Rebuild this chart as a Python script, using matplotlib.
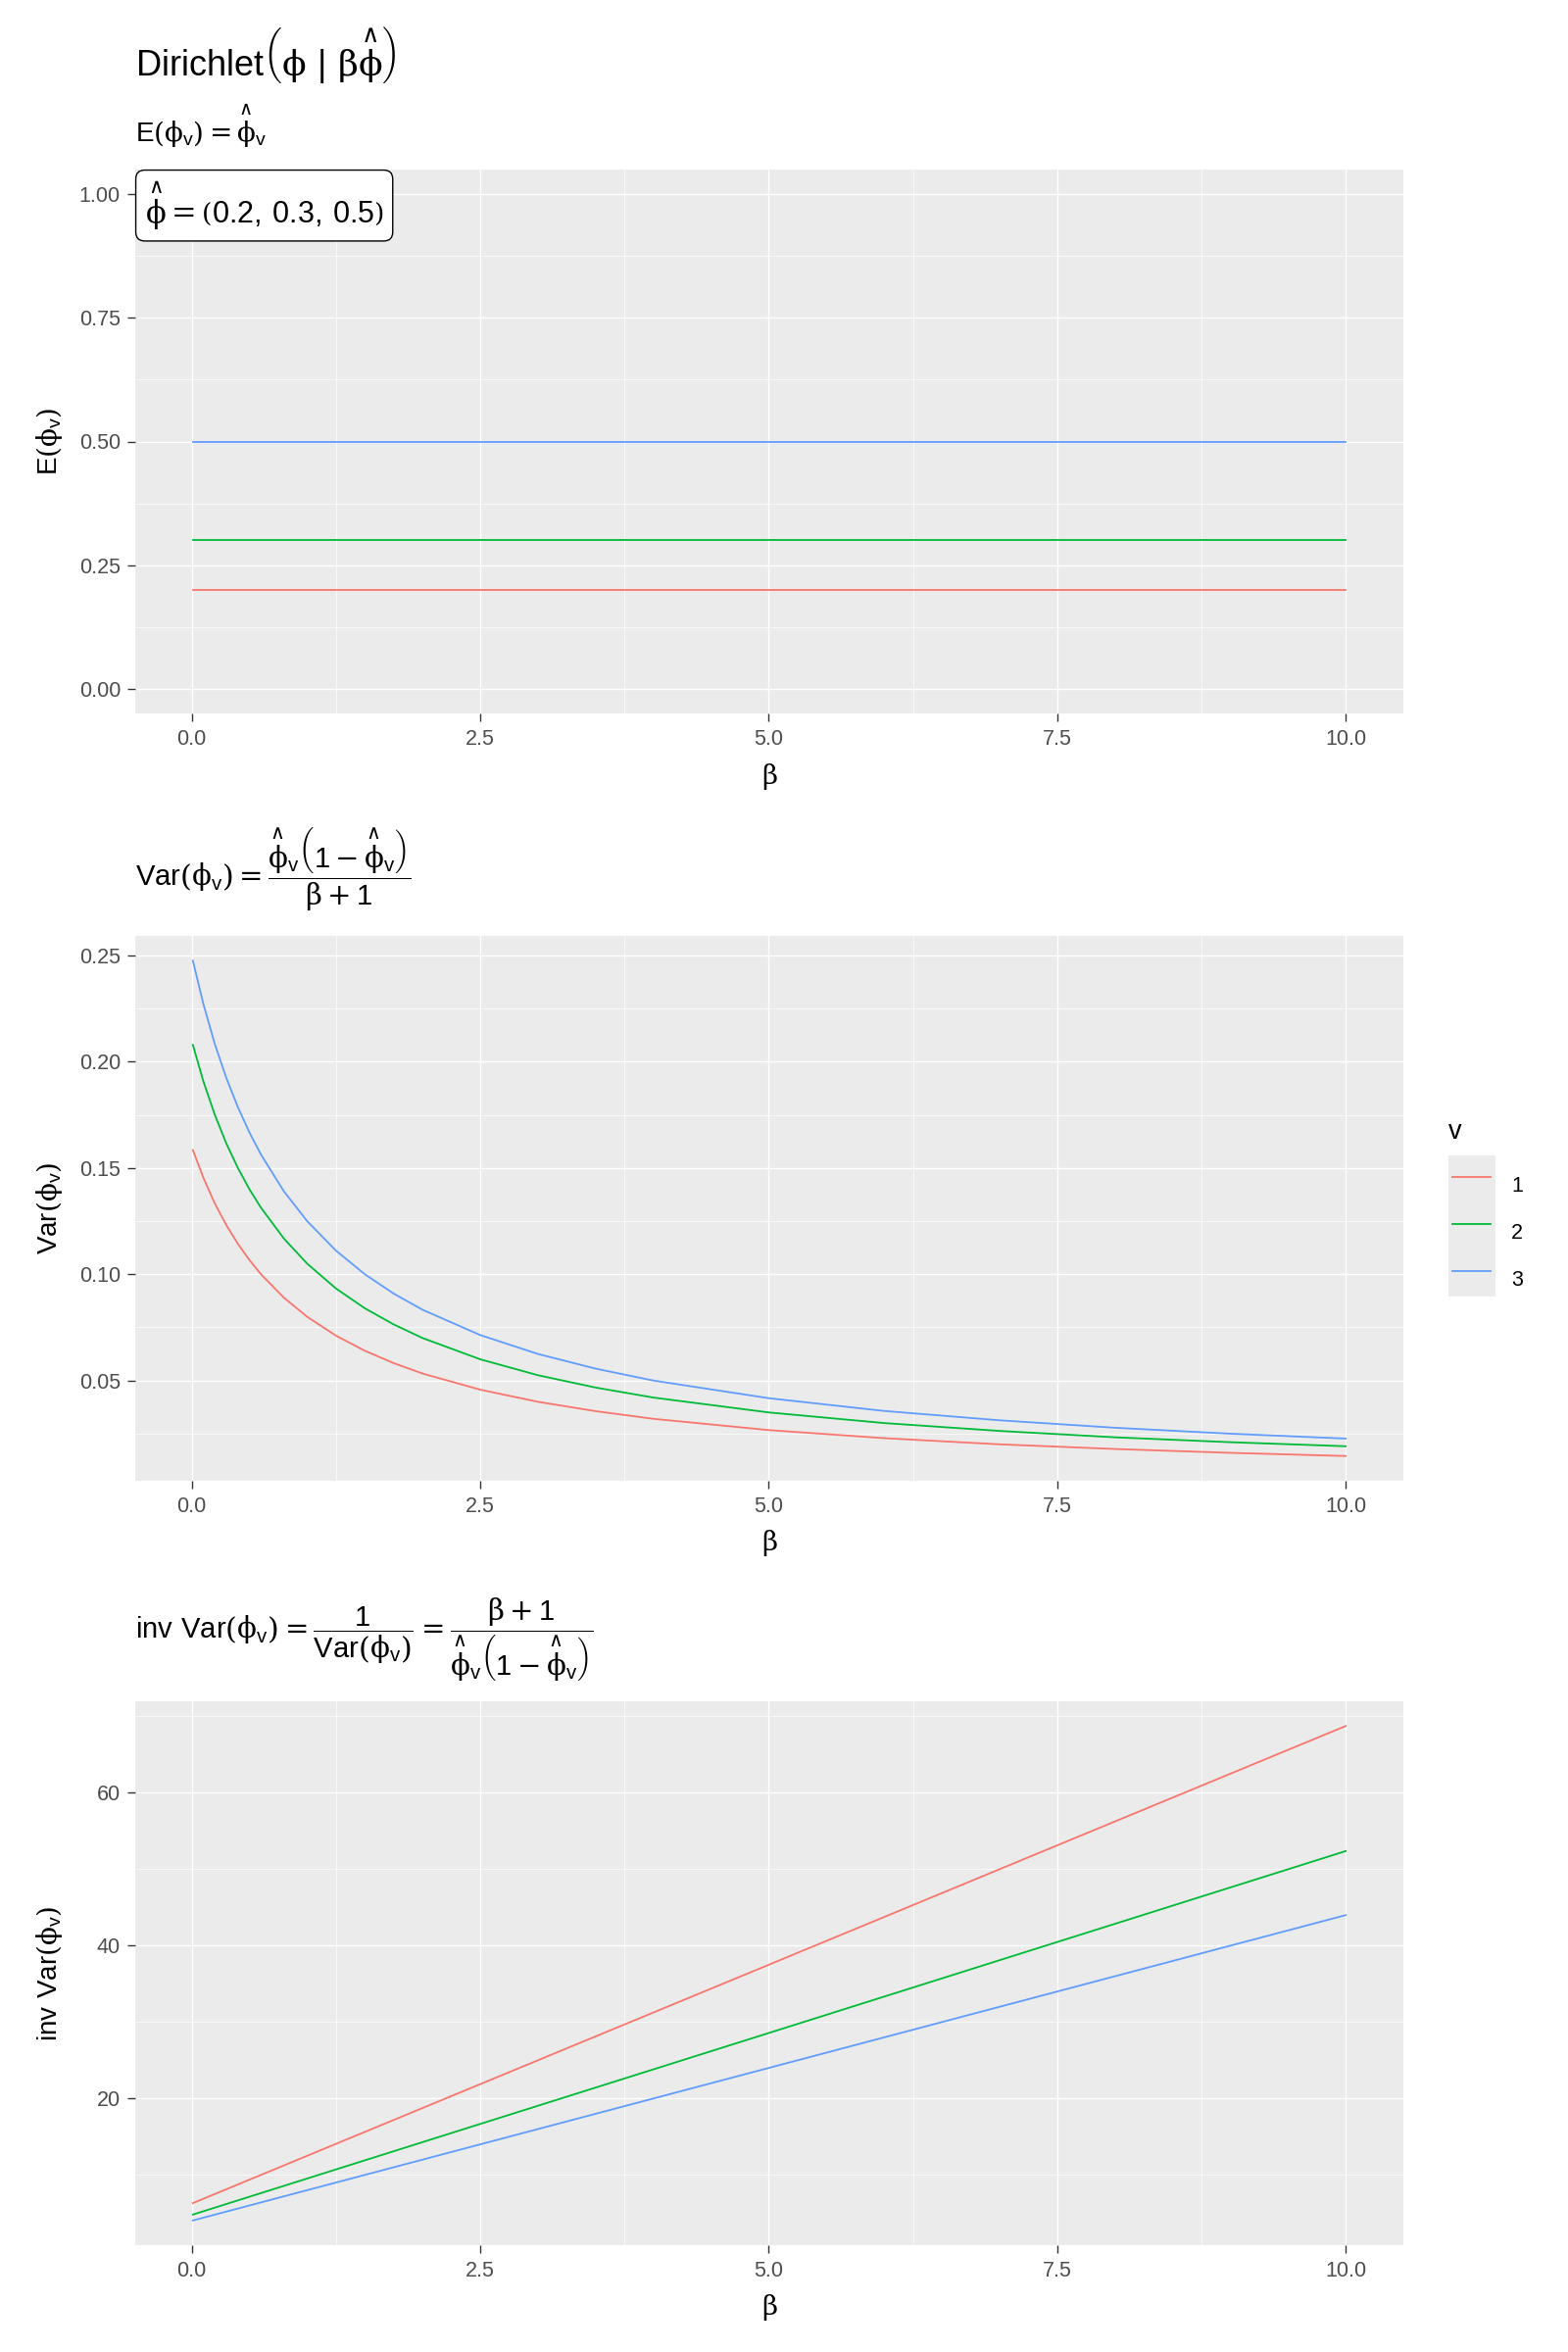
import matplotlib
matplotlib.use('Agg')
import matplotlib.pyplot as plt
from matplotlib.patches import Rectangle
from matplotlib.ticker import FormatStrFormatter

plt.rcParams['font.family'] = ['Liberation Sans', 'DejaVu Sans']
plt.rcParams['mathtext.fontset'] = 'custom'
plt.rcParams['mathtext.rm'] = 'DejaVu Serif'
plt.rcParams['mathtext.it'] = 'DejaVu Serif:italic'
plt.rcParams['mathtext.bf'] = 'DejaVu Serif:bold'
plt.rcParams['mathtext.sf'] = 'Liberation Sans'

# --- datos ---
niveles = ['1', '2', '3']
colores = ['#F8766D', '#00BA38', '#619CFF']

# E(phi_v) = phi_hat_v (constante en beta)
beta_e = [0.01, 10.0]
e_1 = [0.2, 0.2]
e_2 = [0.3, 0.3]
e_3 = [0.5, 0.5]

# Var(phi_v)
beta_var = [0.01, 0.1, 0.2, 0.3, 0.4, 0.5, 0.6, 0.8, 1.0, 1.25, 1.5, 1.75,
            2.0, 2.5, 3.0, 3.5, 4.0, 5.0, 6.0, 7.0, 8.0, 9.0, 10.0]
var_1 = [0.1584, 0.1455, 0.1333, 0.1231, 0.1143, 0.1067, 0.1000, 0.0889,
         0.0800, 0.0711, 0.0640, 0.0582, 0.0533, 0.0457, 0.0400, 0.0356,
         0.0320, 0.0267, 0.0229, 0.0200, 0.0178, 0.0160, 0.0145]
var_2 = [0.2079, 0.1909, 0.1750, 0.1615, 0.1500, 0.1400, 0.1313, 0.1167,
         0.1050, 0.0933, 0.0840, 0.0764, 0.0700, 0.0600, 0.0525, 0.0467,
         0.0420, 0.0350, 0.0300, 0.0263, 0.0233, 0.0210, 0.0191]
var_3 = [0.2475, 0.2273, 0.2083, 0.1923, 0.1786, 0.1667, 0.1563, 0.1389,
         0.1250, 0.1111, 0.1000, 0.0909, 0.0833, 0.0714, 0.0625, 0.0556,
         0.0500, 0.0417, 0.0357, 0.0313, 0.0278, 0.0250, 0.0227]

# inv Var(phi_v)
beta_inv = [0.01, 2.5, 5.0, 7.5, 10.0]
inv_1 = [6.31, 21.88, 37.50, 53.13, 68.75]
inv_2 = [4.81, 16.67, 28.57, 40.48, 52.38]
inv_3 = [4.04, 14.00, 24.00, 34.00, 44.00]

x_ticks = [0.0, 2.5, 5.0, 7.5, 10.0]
x_minor = [1.25, 3.75, 6.25, 8.75]

PHI = r'\mathrm{\phi}'
HAT = r'\overset{\wedge}{\mathrm{\phi}}'
PHIV = r'\mathrm{\phi}_{\mathsf{v}}'
HPHIV = HAT + r'_{\mathsf{v}}'

W, H = 1600, 2400
fig = plt.figure(figsize=(16, 24), dpi=100)


def panel(top_px, bottom_px):
    left, right = 138, 1432
    return fig.add_axes([left / W, 1 - bottom_px / H, (right - left) / W,
                         (bottom_px - top_px) / H])


def expandir(vals):
    lo, hi = min(vals), max(vals)
    d = 0.05 * (hi - lo)
    return lo - d, hi + d


def estilo(ax, yticks, yminor, yfmt, ylim, ylabel):
    ax.set_facecolor('#EBEBEB')
    for s in ax.spines.values():
        s.set_visible(False)
    ax.set_xlim(*expandir(beta_var))
    ax.set_ylim(*ylim)
    ax.set_xticks(x_ticks)
    ax.set_xticks(x_minor, minor=True)
    ax.set_yticks(yticks)
    ax.set_yticks(yminor, minor=True)
    ax.xaxis.set_major_formatter(FormatStrFormatter('%.1f'))
    ax.yaxis.set_major_formatter(FormatStrFormatter(yfmt))
    ax.tick_params(which='major', length=5.8, width=1.0, color='#333333',
                   labelcolor='#4D4D4D', labelsize=15.5)
    ax.tick_params(axis='x', which='major', pad=6)
    ax.tick_params(axis='y', which='major', pad=5)
    ax.tick_params(which='minor', length=0)
    ax.grid(which='major', color='white', lw=1.0)
    ax.grid(which='minor', color='white', lw=0.5)
    ax.set_axisbelow(True)
    ax.set_xlabel(r'$\mathrm{\beta}$', fontsize=20, labelpad=8)
    ax.set_ylabel(ylabel, fontsize=20)
    ax.yaxis.set_label_coords(-0.056, 0.5)


# --- panel 1: esperanza ---
ax1 = panel(173, 728)
for ys, c in zip([e_1, e_2, e_3], colores):
    ax1.plot(beta_e, ys, color=c, lw=1.3)
estilo(ax1, [0, 0.25, 0.5, 0.75, 1.0], [0.125, 0.375, 0.625, 0.875], '%.2f',
       (-0.05, 1.05), r'$\mathsf{E}\left(' + PHIV + r'\right)$')
ax1.annotate(r'$' + HAT + r' = \left(\mathsf{0.2,\,0.3,\,0.5}\right)$',
             xy=(0, 1), xycoords='axes fraction', xytext=(7, -7),
             textcoords='offset points', ha='left', va='top', fontsize=22,
             bbox=dict(boxstyle='round,pad=0.3,rounding_size=0.3',
                       fc='white', ec='black', lw=1.0))

# --- panel 2: varianza ---
ax2 = panel(955, 1511)
for ys, c in zip([var_1, var_2, var_3], colores):
    ax2.plot(beta_var, ys, color=c, lw=1.3)
estilo(ax2, [0.05, 0.10, 0.15, 0.20, 0.25],
       [0.025, 0.075, 0.125, 0.175, 0.225], '%.2f',
       expandir(var_1 + var_2 + var_3),
       r'$\mathsf{Var}\left(' + PHIV + r'\right)$')

# --- panel 3: inversa de la varianza ---
ax3 = panel(1736, 2291)
for ys, c in zip([inv_1, inv_2, inv_3], colores):
    ax3.plot(beta_inv, ys, color=c, lw=1.3)
estilo(ax3, [20, 40, 60], [10, 30, 50, 70], '%d',
       expandir(inv_1 + inv_2 + inv_3),
       r'$\mathsf{inv\ Var}\left(' + PHIV + r'\right)$')

# --- titulos ---
x0 = 138 / W
fig.text(x0, 1 - 77 / H,
         r'$\mathsf{Dirichlet}\left(' + PHI + r'\ \mathsf{|}\ \mathrm{\beta}'
         + HAT + r'\right)$',
         fontsize=26, va='baseline', ha='left')
fig.text(x0, 1 - 145 / H,
         r'$\mathsf{E}\left(' + PHIV + r'\right) = ' + HPHIV + '$',
         fontsize=20, va='baseline', ha='left')
fig.text(x0, 1 - 905 / H,
         r'$\mathsf{Var}\left(' + PHIV + r'\right) = \dfrac{' + HPHIV
         + r'\left(\mathsf{1} - ' + HPHIV
         + r'\right)}{\mathrm{\beta} + \mathsf{1}}$',
         fontsize=21, va='baseline', ha='left')
fig.text(x0, 1 - 1673 / H,
         r'$\mathsf{inv\ Var}\left(' + PHIV + r'\right) = \dfrac{\mathsf{1}}'
         + r'{\mathsf{Var}\left(' + PHIV + r'\right)} = \dfrac{\mathrm{\beta}'
         + r' + \mathsf{1}}{' + HPHIV + r'\left(\mathsf{1} - ' + HPHIV
         + r'\right)}$',
         fontsize=21, va='baseline', ha='left')

# --- leyenda ---
ax2.add_artist(Rectangle((1478 / W, 1 - 1323 / H), 48 / W, 144 / H,
                         transform=fig.transFigure, facecolor='#EBEBEB',
                         edgecolor='none', clip_on=False, zorder=0.2))
fig.text(1478 / W, 1 - 1155 / H, 'v', fontsize=19.5, ha='left',
         va='center')
leg = ax2.legend(ax2.get_lines(), niveles, loc='upper left',
                 bbox_to_anchor=(1482 / W, 1 - 1186 / H),
                 bbox_transform=fig.transFigure, frameon=False,
                 fontsize=15.5, handlelength=1.8, handleheight=3.05,
                 labelspacing=0, handletextpad=1.0, borderpad=0,
                 borderaxespad=0)

fig.savefig('out.png', dpi=100, facecolor='white')
